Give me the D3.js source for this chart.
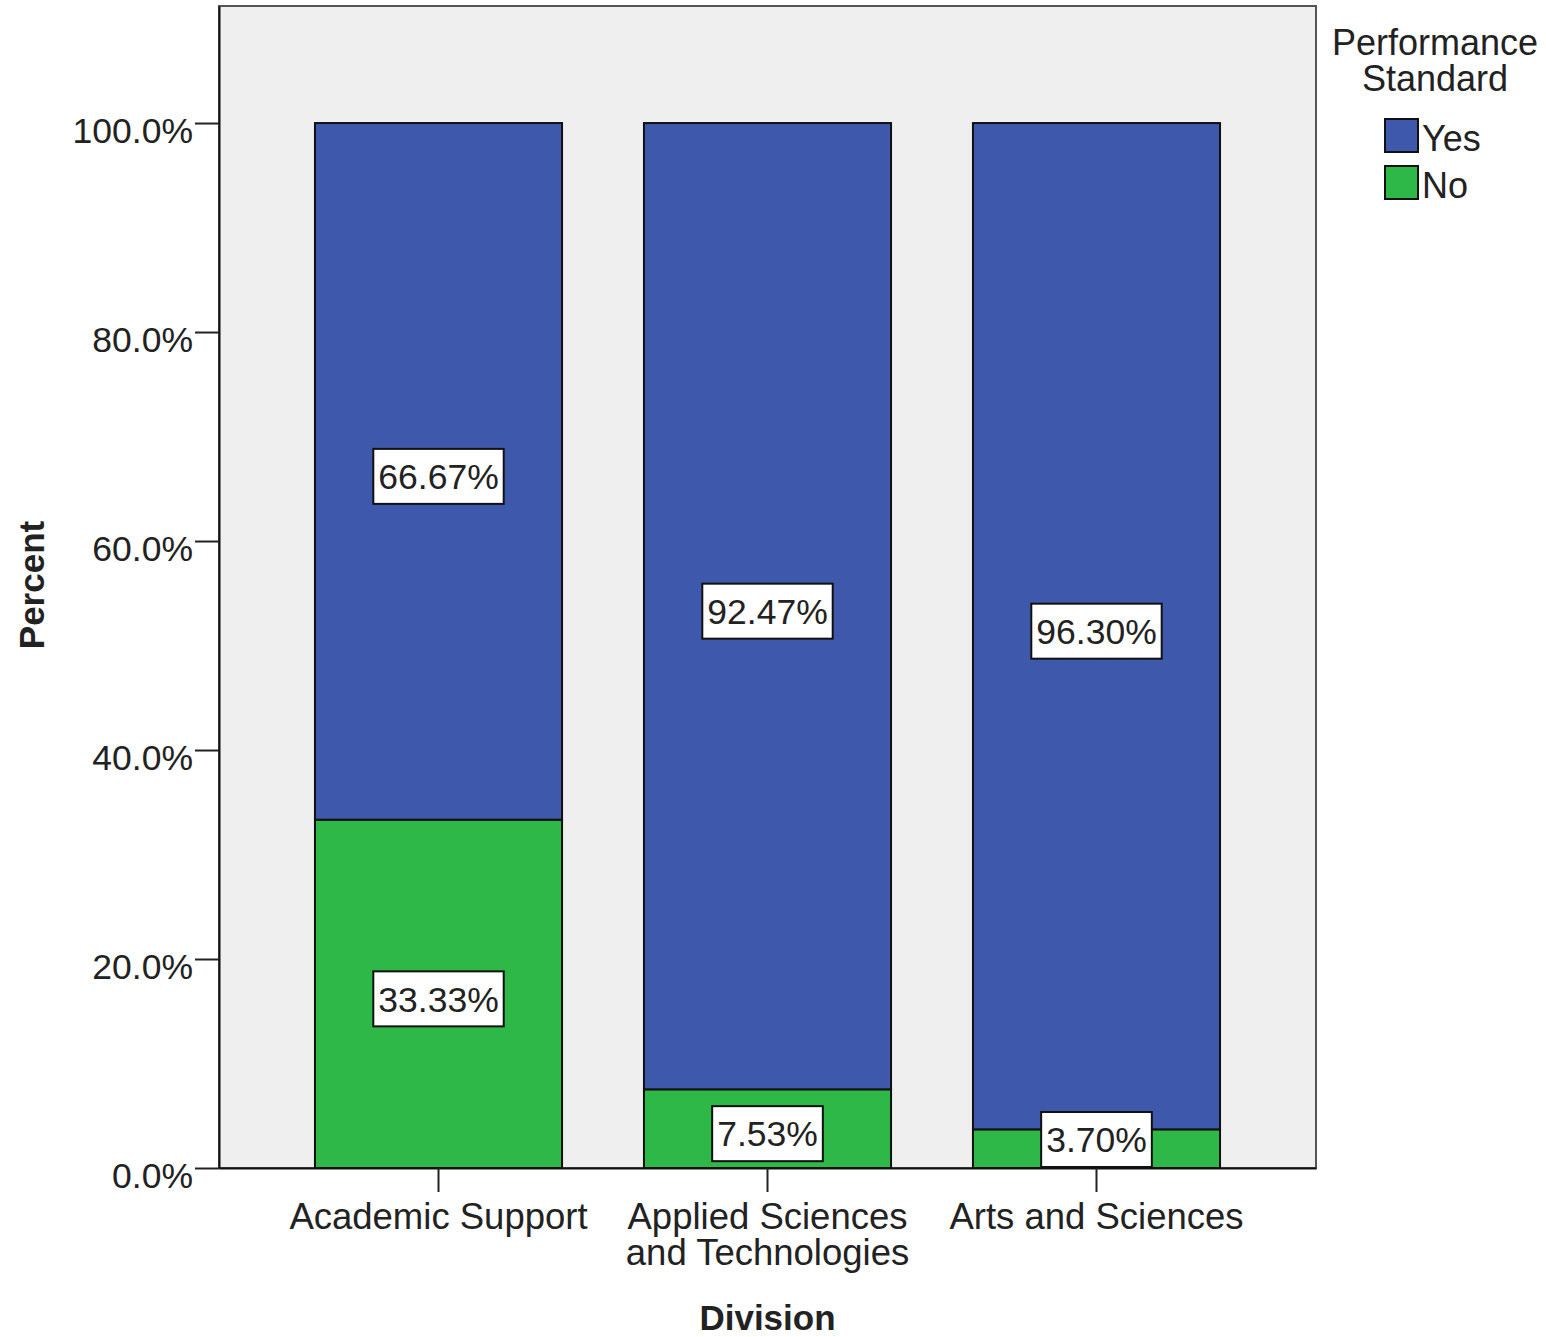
<!DOCTYPE html>
<html>
<head>
<meta charset="utf-8">
<script src="https://cdn.jsdelivr.net/npm/d3@7"></script>
<style>
  body { margin: 0; background: #ffffff; }
  text { font-family: "Liberation Sans", Arial, sans-serif; fill: #222222; }
</style>
</head>
<body>
<div id="wrapper"></div>
<script>
const divisions = ["Academic Support", "Applied Sciences and Technologies", "Arts and Sciences"];
const divisionLines = [["Academic Support"], ["Applied Sciences", "and Technologies"], ["Arts and Sciences"]];
const yesPercent = [66.67, 92.47, 96.30];
const noPercent = [33.33, 7.53, 3.70];
const seriesKeys = ["No", "Yes"];
const legendKeys = ["Yes", "No"];
const seriesColors = {Yes: "#3e58ac", No: "#2eb848"};
const yTicks = [0, 20, 40, 60, 80, 100];

function drawChart() {
    let dimensions = {
        width: 1546,
        height: 1337,
        margin: {top: 6, right: 230, bottom: 169, left: 219}
    };
    dimensions.boundedWidth = dimensions.width - dimensions.margin.left - dimensions.margin.right;
    dimensions.boundedHeight = dimensions.height - dimensions.margin.top - dimensions.margin.bottom;

    const table = divisions.map((d, i) => ({division: d, Yes: yesPercent[i], No: noPercent[i]}));
    const stacked = d3.stack().keys(seriesKeys)(table);

    const svg = d3.select("#wrapper")
        .append("svg")
        .attr("width", dimensions.width)
        .attr("height", dimensions.height);

    const bounds = svg.append("g")
        .attr("transform", `translate(${dimensions.margin.left},${dimensions.margin.top})`);

    const x = d3.scaleBand()
        .domain(divisions)
        .range([0, dimensions.boundedWidth])
        .paddingInner(0.249)
        .paddingOuter(0.2917);

    const y = d3.scaleLinear()
        .domain([0, 111.2])
        .range([dimensions.boundedHeight, 0]);

    // plot background + frame
    bounds.append("rect")
        .attr("width", dimensions.boundedWidth)
        .attr("height", dimensions.boundedHeight)
        .attr("fill", "#efefef")
        .attr("stroke", "#555")
        .attr("stroke-width", 2);

    // bars
    const layers = bounds.selectAll(".layer")
        .data(stacked)
        .join("g")
        .attr("class", "layer")
        .attr("fill", d => seriesColors[d.key]);

    layers.selectAll("rect")
        .data(d => d)
        .join("rect")
        .attr("x", d => x(d.data.division))
        .attr("width", x.bandwidth())
        .attr("y", d => y(d[1]))
        .attr("height", d => y(d[0]) - y(d[1]))
        .attr("stroke", "#111")
        .attr("stroke-width", 2);

    // value labels
    const labelFont = 35.5;
    const boxH = 55;
    const labels = [];
    stacked.forEach(s => s.forEach(d => labels.push({
        division: d.data.division,
        value: d[1] - d[0],
        mid: (y(d[0]) + y(d[1])) / 2
    })));

    const labelGroups = bounds.selectAll(".vlabel")
        .data(labels)
        .join("g")
        .attr("class", "vlabel")
        .attr("transform", d => {
            const cy = Math.min(d.mid + 5, y(0) - boxH / 2 - 1);
            return `translate(${x(d.division) + x.bandwidth() / 2},${cy})`;
        });

    labelGroups.append("text")
        .attr("text-anchor", "middle")
        .attr("dy", "0.36em")
        .style("font-size", `${labelFont}px`)
        .text(d => d.value.toFixed(2) + "%");

    labelGroups.each(function() {
        const g = d3.select(this);
        const w = g.select("text").node().getComputedTextLength() + 10;
        g.insert("rect", "text")
            .attr("x", -w / 2)
            .attr("y", -boxH / 2)
            .attr("width", w)
            .attr("height", boxH)
            .attr("fill", "#ffffff")
            .attr("stroke", "#111")
            .attr("stroke-width", 2);
    });

    // y axis
    const yAxis = bounds.append("g")
        .call(d3.axisLeft(y)
            .tickValues(yTicks)
            .tickSize(24)
            .tickSizeOuter(0)
            .tickPadding(2)
            .tickFormat(d => d.toFixed(1) + "%"));
    yAxis.select(".domain").attr("stroke", "#111").attr("stroke-width", 2);
    yAxis.selectAll(".tick line").attr("stroke", "#222").attr("stroke-width", 2);
    yAxis.selectAll(".tick text")
        .attr("fill", "#222")
        .attr("dy", "0.55em")
        .style("font-size", "35.5px")
        .style("font-family", "'Liberation Sans', Arial, sans-serif");

    // x axis
    const xAxis = bounds.append("g")
        .attr("transform", `translate(0,${dimensions.boundedHeight})`)
        .call(d3.axisBottom(x).tickSize(24).tickSizeOuter(0));
    xAxis.select(".domain").attr("stroke", "#111").attr("stroke-width", 2);
    xAxis.selectAll(".tick line").attr("stroke", "#222").attr("stroke-width", 2);
    xAxis.selectAll(".tick text").remove();
    xAxis.selectAll(".tick").each(function(d) {
        const i = divisions.indexOf(d);
        const t = d3.select(this).append("text")
            .attr("text-anchor", "middle")
            .attr("fill", "#222")
            .style("font-size", "36.5px")
            .style("font-family", "'Liberation Sans', Arial, sans-serif");
        divisionLines[i].forEach((line, j) => {
            t.append("tspan")
                .attr("x", 0)
                .attr("y", 61 + j * 36)
                .text(line);
        });
    });

    // axis titles
    svg.append("text")
        .attr("transform", `translate(44,585) rotate(-90)`)
        .attr("text-anchor", "middle")
        .style("font-size", "35px")
        .style("font-weight", "bold")
        .text("Percent");

    svg.append("text")
        .attr("x", dimensions.margin.left + dimensions.boundedWidth / 2)
        .attr("y", 1330)
        .attr("text-anchor", "middle")
        .style("font-size", "35px")
        .style("font-weight", "bold")
        .text("Division");

    // legend
    const legend = svg.append("g");
    legend.append("text")
        .attr("text-anchor", "middle")
        .style("font-size", "36px")
        .selectAll("tspan")
        .data(["Performance", "Standard"])
        .join("tspan")
        .attr("x", 1435)
        .attr("y", (d, i) => 55 + i * 36)
        .text(d => d);

    const items = legend.selectAll(".item")
        .data(legendKeys)
        .join("g")
        .attr("class", "item")
        .attr("transform", (d, i) => `translate(1385,${119 + i * 47})`);

    items.append("rect")
        .attr("width", 33)
        .attr("height", 33)
        .attr("fill", d => seriesColors[d])
        .attr("stroke", "#111")
        .attr("stroke-width", 2);

    items.append("text")
        .attr("x", 37)
        .attr("y", 32)
        .style("font-size", "36px")
        .text(d => d);
}
drawChart();
</script>
</body>
</html>
